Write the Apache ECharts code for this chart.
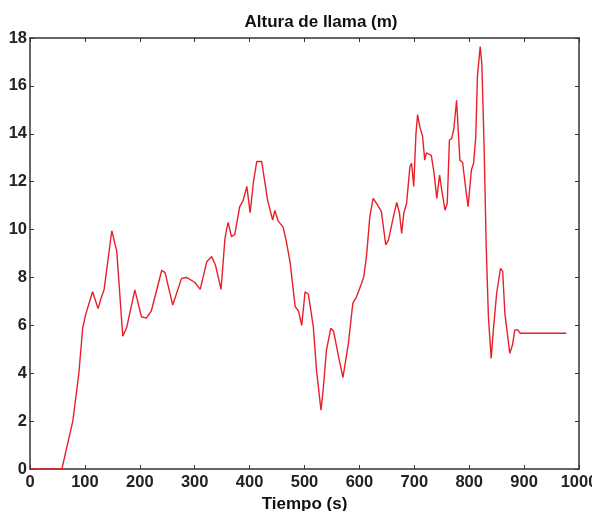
<!DOCTYPE html>
<html>
<head>
<meta charset="utf-8">
<script src="https://cdn.jsdelivr.net/npm/echarts@6/dist/echarts.min.js"></script>
<style>
html, body { margin: 0; padding: 0; background: #fff; }
#chart { width: 592px; height: 511px; }
</style>
</head>
<body>
<div id="chart"></div>
<script>
// tiempo (s)
var tiempo = [0, 58, 78, 89, 96, 102, 114, 124, 129, 135, 149, 158, 169, 176, 191, 203, 212, 221, 240, 246,
    260, 276, 285, 300, 310, 322, 331, 338, 348, 355, 358, 361, 367, 373, 382, 388, 395, 401, 407, 413,
    422, 428, 433, 442, 446, 452, 461, 467, 474, 483, 489, 495, 501, 507, 516, 522, 530, 534, 540, 548,
    553, 562, 570, 572, 580, 588, 595, 604, 608, 613, 619, 625, 633, 640, 648, 653, 662, 668, 673, 677,
    681, 686, 692, 695, 699, 703, 706, 710, 715, 719, 722, 731, 736, 741, 746, 750, 756, 760, 764, 768,
    772, 777, 783, 788, 794, 798, 804, 808, 812, 815, 820, 823, 827, 831, 835, 840, 844, 850, 857, 861,
    865, 874, 879, 883, 888, 893, 977];
// altura de llama (m)
var altura = [0, 0, 2.0, 4.0, 5.9, 6.5, 7.4, 6.7, 7.1, 7.5, 9.95, 9.1, 5.55, 5.9, 7.48, 6.36, 6.3, 6.6, 8.3, 8.2,
    6.85, 7.96, 8.0, 7.8, 7.5, 8.66, 8.87, 8.5, 7.5, 9.6, 10.0, 10.3, 9.7, 9.8, 10.96, 11.2, 11.8, 10.7, 12.0, 12.84,
    12.84, 11.95, 11.2, 10.4, 10.8, 10.36, 10.1, 9.5, 8.6, 6.78, 6.6, 6.0, 7.4, 7.3, 5.95, 4.1, 2.46, 3.3, 4.97, 5.88,
    5.75, 4.7, 3.82, 3.85, 5.25, 6.92, 7.2, 7.76, 8.03, 8.9, 10.54, 11.3, 11.03, 10.75, 9.36, 9.57, 10.54, 11.13, 10.68, 9.84,
    10.7, 11.1, 12.63, 12.77, 11.8, 14.0, 14.8, 14.3, 13.9, 12.9, 13.2, 13.1, 12.35, 11.3, 12.28, 11.66, 10.8, 11.1, 13.74, 13.8,
    14.2, 15.4, 12.9, 12.8, 11.65, 10.96, 12.49, 12.77, 13.88, 16.4, 17.64, 16.94, 13.6, 9.29, 6.36, 4.62, 5.8, 7.34, 8.38, 8.25,
    6.5, 4.83, 5.2, 5.8, 5.82, 5.67, 5.67];

var serie = tiempo.map(function (t, i) { return [t, altura[i]]; });

var chart = echarts.init(document.getElementById('chart'));
var tickFont = {
    fontFamily: 'Liberation Sans',
    fontWeight: 'bold',
    fontSize: 16.5,
    color: '#222'
};
var boxLine = { onZero: false, lineStyle: { color: '#333', width: 1.5 } };
var boxTick = { show: true, inside: true, length: 4, lineStyle: { color: '#333' } };
var option = {
    animation: false,
    title: {
        text: 'Altura de llama (m)',
        left: 316,
        top: 9,
        textAlign: 'center',
        textStyle: { fontFamily: 'Liberation Sans', fontWeight: 'bold', fontSize: 17, color: '#111' }
    },
    grid: { left: 30, right: 13, top: 38, bottom: 42, outerBoundsMode: 'none' },
    xAxis: [
        {
            type: 'value', min: 0, max: 1000, interval: 100,
            name: 'Tiempo (s)', nameLocation: 'middle', nameGap: 24,
            nameTextStyle: { fontFamily: 'Liberation Sans', fontWeight: 'bold', fontSize: 17, color: '#111' },
            axisLine: boxLine,
            axisTick: boxTick,
            axisLabel: Object.assign({ margin: 5, formatter: function (v) { return String(v); } }, tickFont),
            splitLine: { show: false }
        },
        {
            type: 'value', min: 0, max: 1000, interval: 100, position: 'top',
            axisLine: boxLine,
            axisTick: boxTick,
            axisLabel: { show: false },
            splitLine: { show: false }
        }
    ],
    yAxis: [
        {
            type: 'value', min: 0, max: 18, interval: 2,
            axisLine: Object.assign({ show: true }, boxLine),
            axisTick: boxTick,
            axisLabel: Object.assign({ margin: 3 }, tickFont),
            splitLine: { show: false }
        },
        {
            type: 'value', min: 0, max: 18, interval: 2, position: 'right',
            axisLine: Object.assign({ show: true }, boxLine),
            axisTick: boxTick,
            axisLabel: { show: false },
            splitLine: { show: false }
        }
    ],
    series: [
        {
            type: 'line',
            data: serie,
            showSymbol: false,
            lineStyle: { color: '#e8202a', width: 1.4 },
            z: 1
        }
    ]
};
chart.setOption(option);
window.onresize = function () {
    chart.resize();
};
</script>
</body>
</html>
